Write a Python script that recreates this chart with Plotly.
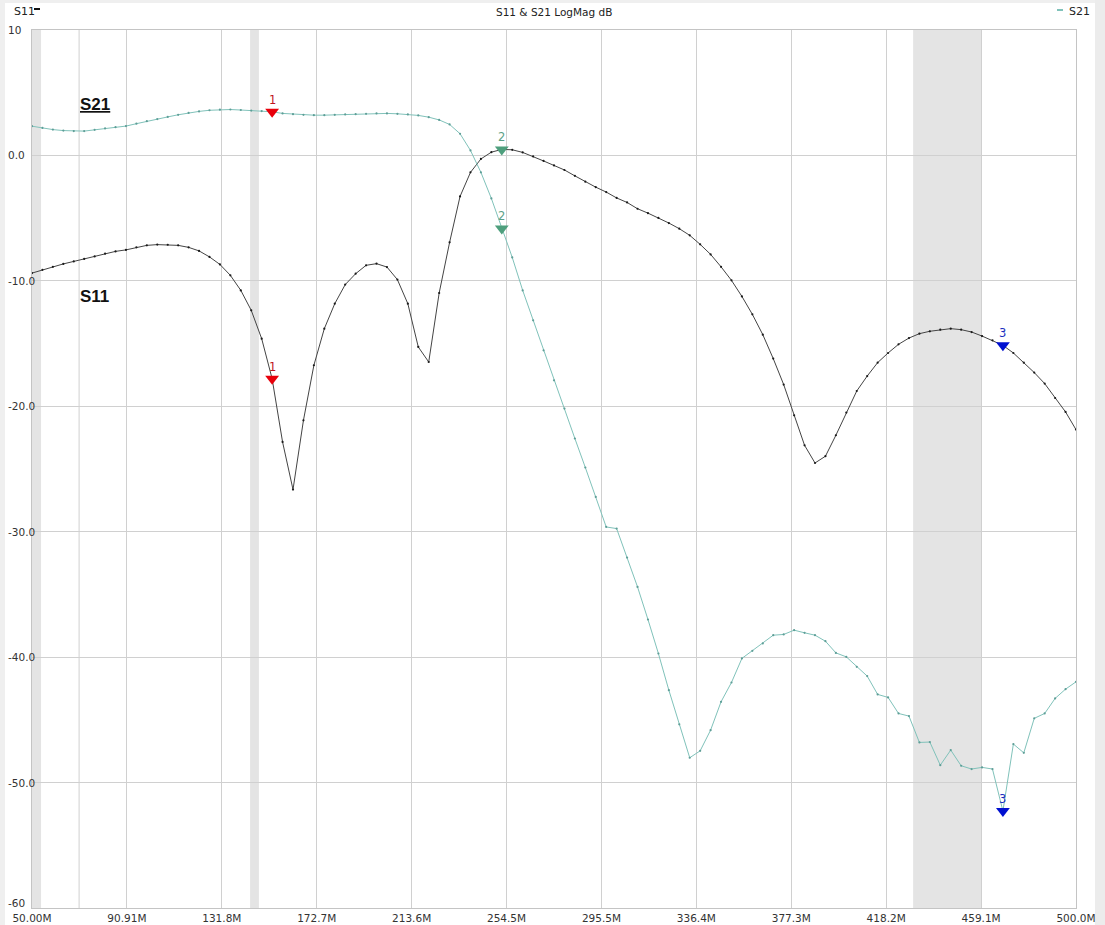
import numpy as np
import plotly.graph_objects as go

# Sweep definition (MHz)
F_START_MHZ = 50.0
F_STOP_MHZ = 500.0
N_POINTS = 101
freq_mhz = np.linspace(F_START_MHZ, F_STOP_MHZ, N_POINTS)

# Measured traces, dB
s11_db = [
    -9.38, -9.12, -8.88, -8.65, -8.45, -8.25, -8.05, -7.83, -7.65, -7.53,
    -7.33, -7.17, -7.11, -7.12, -7.17, -7.33, -7.61, -8.09, -8.69, -9.56,
    -10.76, -12.35, -14.61, -17.80, -22.84, -26.64, -21.12, -16.73, -13.81, -11.82,
    -10.30, -9.43, -8.76, -8.63, -8.90, -9.90, -11.82, -15.27, -16.47, -10.97,
    -6.93, -3.27, -1.35, -0.28, 0.26, 0.48, 0.45, 0.24, -0.08, -0.44,
    -0.80, -1.16, -1.63, -2.09, -2.53, -2.92, -3.39, -3.75, -4.25, -4.60,
    -4.98, -5.39, -5.84, -6.37, -7.09, -7.89, -8.88, -9.96, -11.24, -12.67,
    -14.29, -16.20, -18.27, -20.72, -23.11, -24.52, -23.98, -22.31, -20.50, -18.78,
    -17.59, -16.52, -15.75, -15.06, -14.56, -14.21, -14.02, -13.89, -13.81, -13.89,
    -14.08, -14.40, -14.74, -15.14, -15.75, -16.52, -17.31, -18.19, -19.34, -20.45,
    -21.86,
]

s21_db = [
    2.33, 2.19, 2.06, 1.98, 1.94, 1.94, 2.04, 2.15, 2.25, 2.34,
    2.53, 2.73, 2.90, 3.07, 3.24, 3.39, 3.51, 3.60, 3.65, 3.66,
    3.62, 3.58, 3.54, 3.48, 3.35, 3.29, 3.24, 3.21, 3.21, 3.24,
    3.27, 3.29, 3.32, 3.35, 3.35, 3.32, 3.27, 3.19, 3.05, 2.83,
    2.47, 1.73, 0.40, -1.35, -3.43, -5.82, -8.13, -10.76, -13.15, -15.54,
    -17.93, -20.18, -22.57, -24.88, -27.23, -29.62, -29.75, -32.06, -34.40, -37.00,
    -39.71, -42.63, -45.36, -48.02, -47.47, -45.82, -43.56, -42.02, -40.10, -39.50,
    -38.91, -38.25, -38.19, -37.85, -38.06, -38.25, -38.73, -39.66, -39.98, -40.77,
    -41.51, -42.97, -43.21, -44.49, -44.70, -46.80, -46.77, -48.61, -47.41, -48.66,
    -48.92, -48.79, -48.92, -52.27, -46.93, -47.63, -44.88, -44.49, -43.29, -42.55,
    -41.97,
]

# Markers (sweep point index for each marker)
marker_names = ["1", "2", "3"]
marker_index = [23, 45, 93]
marker_colors = ["#e8000b", "#4e9f7d", "#0010d0"]
marker_label_colors = ["#c0141c", "#5a9f86", "#1a2fc0"]

# Axis ticks
x_tick_text = ["50.00M", "90.91M", "131.8M", "172.7M", "213.6M", "254.5M",
               "295.5M", "336.4M", "377.3M", "418.2M", "459.1M", "500.0M"]
y_tick_vals = [10, 0, -10, -20, -30, -40, -50, -60]
y_tick_text = ["10", "0.0", "-10.0", "-20.0", "-30.0", "-40.0", "-50.0", "-60"]

# Shaded frequency segments (MHz) and the extra segment divider
shaded_bands = [(50.0, 53.9), (144.0, 147.8), (429.8, 459.1)]
divider_mhz = 70.3

S11_COLOR = "#444444"
S21_COLOR = "#80c2ba"
S21_DOT = "#5e9e97"
GRID = "#d0d0d0"

W, H = 1105, 925
L, R, T, B = 32, 1076, 30, 908
n_div = len(x_tick_text) - 1
x_tick_vals = [F_START_MHZ + i * (F_STOP_MHZ - F_START_MHZ) / n_div for i in range(n_div + 1)]


def px(x):
    return (x - L) / (R - L)


def py(y):
    return (B - y) / (B - T)


TICK_FONT = dict(family="DejaVu Sans", size=10.5, color="#333333")

fig = go.Figure()

fig.add_trace(go.Scatter(
    x=freq_mhz, y=s11_db, mode="lines+markers", name="S11",
    line=dict(color=S11_COLOR, width=1),
    marker=dict(color="#1a1a1a", size=2.2),
))
fig.add_trace(go.Scatter(
    x=freq_mhz, y=s21_db, mode="lines+markers", name="S21",
    line=dict(color=S21_COLOR, width=1),
    marker=dict(color=S21_DOT, size=2.2),
))

# Marker triangles with their numbers, on both traces
for series in (s11_db, s21_db):
    for name, idx, col, lcol in zip(marker_names, marker_index, marker_colors, marker_label_colors):
        fig.add_trace(go.Scatter(
            x=[freq_mhz[idx]], y=[series[idx]], mode="markers",
            marker=dict(symbol="triangle-down", size=12, color=col, line=dict(width=0)),
            showlegend=False,
        ))
        fig.add_annotation(
            x=freq_mhz[idx], y=series[idx], xref="x", yref="y", text=name,
            showarrow=False, yshift=12, xanchor="center", yanchor="middle",
            font=dict(family="DejaVu Sans", size=11.5, color=lcol),
        )

shapes = []
for x0, x1 in shaded_bands:
    shapes.append(dict(type="rect", xref="x", yref="paper", x0=x0, x1=x1, y0=0, y1=1,
                       fillcolor="#e4e4e4", line=dict(width=0), layer="below"))
shapes.append(dict(type="line", xref="x", yref="paper", x0=divider_mhz, x1=divider_mhz,
                   y0=0, y1=1, line=dict(color=GRID, width=1), layer="below"))

# Window frame around the chart
shapes += [
    dict(type="rect", xref="paper", yref="paper", x0=px(0), x1=px(W), y0=py(0), y1=py(3),
         fillcolor="#efefef", line=dict(width=0), layer="below"),
    dict(type="rect", xref="paper", yref="paper", x0=px(0), x1=px(5), y0=py(0), y1=py(H),
         fillcolor="#efefef", line=dict(width=0), layer="below"),
    dict(type="rect", xref="paper", yref="paper", x0=px(1095), x1=px(W), y0=py(0), y1=py(H),
         fillcolor="#ececec", line=dict(width=0), layer="below"),
]
# Legend dashes
shapes += [
    dict(type="line", xref="paper", yref="paper", x0=px(34), x1=px(40), y0=py(9), y1=py(9),
         line=dict(color="#111111", width=2)),
    dict(type="line", xref="paper", yref="paper", x0=px(1057), x1=px(1063), y0=py(10), y1=py(10),
         line=dict(color=S21_COLOR, width=2)),
]

annotations = [
    dict(text="S11 &amp; S21 LogMag dB", xref="paper", yref="paper", x=px(554), y=py(12),
         xanchor="center", yanchor="middle", showarrow=False,
         font=dict(family="DejaVu Sans", size=10.5, color="#222222")),
    dict(text="S11", xref="paper", yref="paper", x=px(12), y=py(12),
         xanchor="left", yanchor="middle", showarrow=False,
         font=dict(family="DejaVu Sans", size=11, color="#222222")),
    dict(text="S21", xref="paper", yref="paper", x=px(1067), y=py(12),
         xanchor="left", yanchor="middle", showarrow=False,
         font=dict(family="DejaVu Sans", size=11, color="#222222")),
    dict(text="<b><u>S21</u></b>", xref="paper", yref="paper", x=px(78), y=py(104),
         xanchor="left", yanchor="middle", showarrow=False,
         font=dict(family="Liberation Sans", size=17, color="#111111")),
    dict(text="<b>S11</b>", xref="paper", yref="paper", x=px(78), y=py(296),
         xanchor="left", yanchor="middle", showarrow=False,
         font=dict(family="Liberation Sans", size=17, color="#111111")),
]
for v, t in zip(y_tick_vals, y_tick_text):
    annotations.append(dict(text=t, xref="paper", yref="y", x=px(6), y=v,
                            xanchor="left", yanchor="middle", showarrow=False,
                            yshift=5 if v == y_tick_vals[-1] else 0,
                            font=TICK_FONT))

fig.update_layout(
    width=W, height=H,
    margin=dict(l=L, r=W - R, t=T, b=H - B, pad=0),
    paper_bgcolor="white", plot_bgcolor="white",
    showlegend=False,
    shapes=shapes,
    xaxis=dict(range=[F_START_MHZ, F_STOP_MHZ], tickvals=x_tick_vals, ticktext=x_tick_text,
               showgrid=True, gridcolor=GRID, gridwidth=1, zeroline=False,
               showline=True, linecolor="#c4c4c4", linewidth=1, mirror=True,
               ticks="", tickfont=TICK_FONT, automargin=False, fixedrange=True),
    yaxis=dict(range=[-60, 10], tickvals=y_tick_vals, showticklabels=False,
               showgrid=True, gridcolor=GRID, gridwidth=1, zeroline=False,
               showline=True, linecolor="#c4c4c4", linewidth=1, mirror=True,
               ticks="", automargin=False, fixedrange=True),
)
for a in annotations:
    fig.add_annotation(**a)

fig.write_html("out.html")
